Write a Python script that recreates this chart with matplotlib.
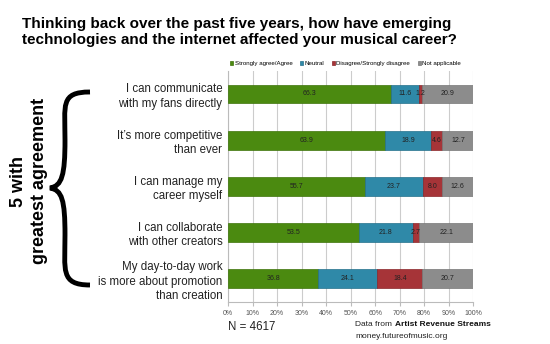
import numpy as np
from matplotlib import pyplot as plt
from matplotlib.path import Path
from matplotlib.patches import PathPatch
from matplotlib.transforms import offset_copy

plt.rcParams["font.family"] = ["Liberation Sans", "DejaVu Sans"]

# donnees
questions = ["I can communicate\nwith my fans directly",
             "It’s more competitive\nthan ever",
             "I can manage my\ncareer myself",
             "I can collaborate\nwith other creators",
             "My day-to-day work\nis more about promotion\nthan creation"]
series = ["Strongly agree/Agree", "Neutral", "Disagree/Strongly disagree", "Not applicable"]
agree = [66.3, 63.9, 55.7, 53.5, 36.8]
neutral = [11.6, 18.9, 23.7, 21.8, 24.1]
disagree = [1.2, 4.6, 8.0, 2.7, 18.4]
not_app = [20.9, 12.7, 12.6, 22.1, 20.7]
colors = ["#4b8a10", "#2f89a8", "#a63438", "#8c8c8c"]
edges = ["#3d7309", "#24708b", "#8a2529", "#767676"]

fig = plt.figure(figsize=(5.5, 3.44), dpi=100)
ax = fig.add_axes([0.4145, 0.122, 0.446, 0.672])

y = np.arange(len(questions))
left = np.zeros(len(questions))
for vals, name, c, ec in zip([agree, neutral, disagree, not_app], series, colors, edges):
    vals = np.array(vals)
    ax.barh(y, vals, left=left, height=0.41, color=c, edgecolor=ec, linewidth=0.5,
            label=name, zorder=3)
    for yi, l, v in zip(y, left, vals):
        ax.text(l + v / 2, yi, f"{v:.1f}", ha="center", va="center", fontsize=5,
                color="#222222", zorder=4)
    left += vals

ax.set_xlim(0, 100)
ax.set_ylim(len(questions) - 0.5, -0.5)
ax.set_xticks(np.arange(0, 101, 10))
ax.set_xticklabels([f"{t}%" for t in range(0, 101, 10)], fontsize=5, color="#555555")
ax.set_yticks(y)
ax.set_yticklabels(questions, fontsize=8.3, color="#222222", linespacing=1.25)
ax.tick_params(axis="y", length=0, pad=4)
ax.tick_params(axis="x", length=3, color="#bbbbbb", pad=3)
ax.grid(axis="x", color="#cccccc", lw=0.8, zorder=0)
for s in ["top", "right"]:
    ax.spines[s].set_visible(False)
for s in ["left", "bottom"]:
    ax.spines[s].set_color("#bbbbbb")

ax.legend(loc="lower left", bbox_to_anchor=(-0.012, 1.0), ncol=4, fontsize=4.4,
          frameon=False, handlelength=0.5, handleheight=0.5, handletextpad=0.3,
          columnspacing=1.2, borderaxespad=0.35)

fig.text(0.04, 1 - 32 / 344, "Thinking back over the past five years, how have emerging\n"
         "technologies and the internet affected your musical career?",
         fontsize=11, fontweight="bold", va="center", ha="left", linespacing=1.25)

# accolade
verts = [(90, 92), (60, 92), (65, 105), (65, 140), (65, 175), (62, 186), (50, 188),
         (62, 190), (65, 200), (65, 235), (65, 270), (60, 285), (90, 285)]
codes = [Path.MOVETO] + [Path.CURVE4] * 12
verts = [(vx / 550, 1 - vy / 344) for vx, vy in verts]
fig.add_artist(PathPatch(Path(verts, codes), transform=fig.transFigure, fill=False,
                         lw=3.5, ec="black", capstyle="butt"))
fig.text(29 / 550, 1 - 181 / 344, "5 with\ngreatest agreement", rotation=90, ha="center",
         va="center", fontsize=13, fontweight="bold", linespacing=1.3)

fig.text(228 / 550, 1 - 327 / 344, "N = 4617", fontsize=8.3, va="center", color="#222222")
t1 = fig.text(355 / 550, 1 - 325 / 344, "Data from ", fontsize=6, va="center", color="#222222")
fig.canvas.draw()
w = t1.get_window_extent().width
fig.text(355 / 550, 1 - 325 / 344, "Artist Revenue Streams", fontsize=6, va="center",
         fontweight="bold", color="#111111",
         transform=offset_copy(fig.transFigure, fig=fig, x=w + 1, units="dots"))
fig.text(355 / 550, 1 - 337 / 344, "money.futureofmusic.org", fontsize=6, va="center",
         color="#222222")

plt.savefig("out.png", dpi=100)
